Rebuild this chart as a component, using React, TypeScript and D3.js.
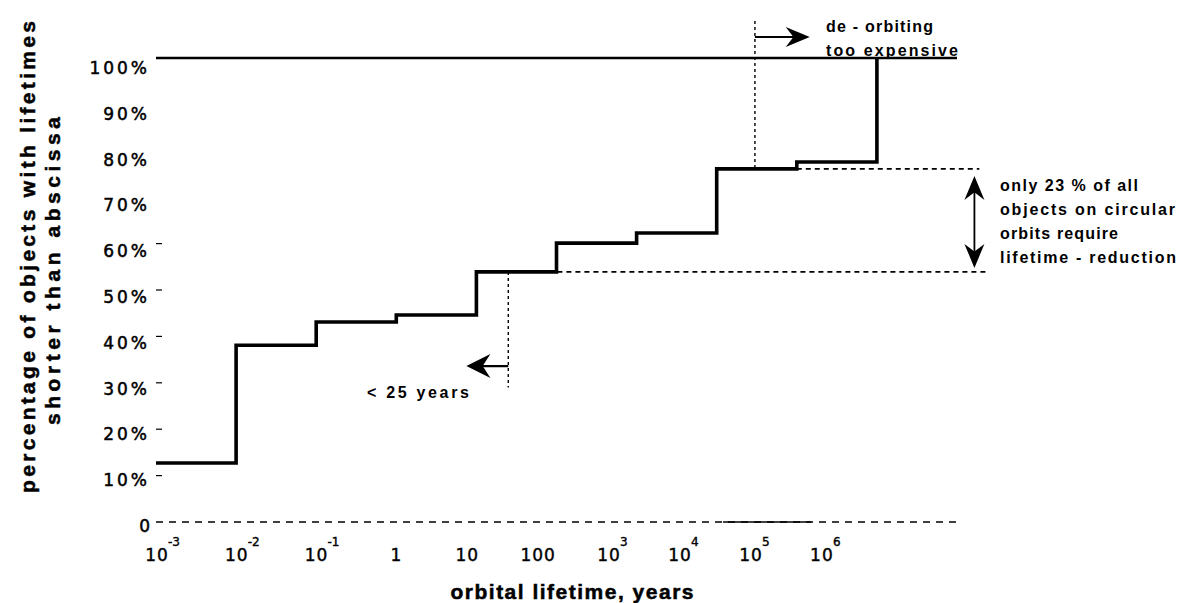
import React from "react";
import * as d3 from "d3";

// decade boundaries (exponent of 10, years) and cumulative share reached after each one
const decadeExp = [-3, -2, -1, 0, 1, 2, 3, 4, 5, 6];
const shareLevels = [12.7, 38.1, 43.1, 44.6, 53.9, 60.1, 62.3, 76.1, 77.6, 100];

const yTicks = [0, 10, 20, 30, 40, 50, 60, 70, 80, 90, 100];
const yTickMarks = [10, 20, 30, 40, 50, 60];
const xTickBase = ["10", "10", "10", "1", "10", "100", "10", "10", "10", "10"];
const xTickSup = ["-3", "-2", "-1", "", "", "", "3", "4", "5", "6"];

const W = 1181;
const H = 603;

// left-, right-, up- or down-pointing barbed arrow head
function head(x: number, y: number, dir: "l" | "r" | "u" | "d", len: number, half: number) {
  const n = 0.68;
  if (dir === "l") return `M${x},${y}L${x + len},${y - half}L${x + len * n},${y}L${x + len},${y + half}Z`;
  if (dir === "r") return `M${x},${y}L${x - len},${y - half}L${x - len * n},${y}L${x - len},${y + half}Z`;
  if (dir === "u") return `M${x},${y}L${x - half},${y + len}L${x},${y + len * n}L${x + half},${y + len}Z`;
  return `M${x},${y}L${x - half},${y - len}L${x},${y - len * n}L${x + half},${y - len}Z`;
}

export default function App() {
  const x = d3.scaleLog().domain([1e-3, 1e7]).range([156, 957]);
  const y = d3.scaleLinear().domain([0, 100]).range([522, 58]);
  // the printed tick labels drift left of the decades on the right half
  const xLab = d3.scaleLinear().domain([-3, 0, 6]).range([x(1e-3) + 1, x(1), x(1e6) - 55]);
  const yLab = d3.scaleLinear().domain([0, 100]).range([526, 68]);

  const pts: [number, number][] = decadeExp.map((e, i) => [Math.pow(10, e), shareLevels[i]]);
  const step = d3
    .line<[number, number]>()
    .x((d) => x(d[0]))
    .y((d) => y(d[1]))
    .curve(d3.curveStepAfter)(pts) as string;

  const low = shareLevels[4];
  const high = shareLevels[7];
  const tick = "DejaVu Sans, sans-serif";
  const bold = "Liberation Sans, Arial, sans-serif";

  // annotation anchors in data units
  const x25 = 25;
  const xDeorb = 3e4;
  const xRight = 1.65e7;

  return (
    <svg width={W} height={H} style={{ position: "fixed", left: 0, top: 0, background: "#fff" }}>
      {/* titles */}
      <g fontFamily={bold} fontWeight="bold" fontSize={21} fill="#000" stroke="#000" strokeWidth={0.5}>
        <text transform="translate(27,257) rotate(-90)" textAnchor="middle" dominantBaseline="central" textLength={472} lengthAdjust="spacing">
          percentage of objects with lifetimes
        </text>
        <text transform="translate(52,271) rotate(-90)" textAnchor="middle" dominantBaseline="central" textLength={308} lengthAdjust="spacing">
          shorter than abscissa
        </text>
        <text x={572} y={591} textAnchor="middle" dominantBaseline="central" textLength={243} lengthAdjust="spacing">
          orbital lifetime, years
        </text>
      </g>

      {/* y tick labels */}
      <g fontFamily={tick} fontSize={17} fill="#000" stroke="#000" strokeWidth={0.5}>
        {yTicks.map((t) => (
          <text key={t} x={150} y={yLab(t)} textAnchor="end" dominantBaseline="central" letterSpacing={t === 0 ? 0 : 3}>
            {t === 0 ? "0" : `${t}%`}
          </text>
        ))}
      </g>
      {yTickMarks.map((t) => (
        <line key={t} x1={x(1e-3)} x2={x(1e-3) + 6} y1={y(t)} y2={y(t)} stroke="#000" strokeWidth={1.2} />
      ))}

      {/* x tick labels */}
      <g fontFamily={tick} fontSize={17} fill="#000" stroke="#000" strokeWidth={0.4}>
        {decadeExp.map((e, i) => (
          <g key={e}>
            <text x={xLab(e)} y={555} textAnchor="middle" dominantBaseline="central" letterSpacing={1}>
              {xTickBase[i]}
            </text>
            {xTickSup[i] && (
              <text x={xLab(e) + 11} y={542} fontSize={12} dominantBaseline="central">
                {xTickSup[i]}
              </text>
            )}
          </g>
        ))}
      </g>

      {/* dashed baseline */}
      <line x1={x(1e-3)} x2={x(1e7)} y1={y(0)} y2={y(0)} stroke="#000" strokeWidth={1.5} strokeDasharray="7,6" />
      <line x1={x(1.2e4)} x2={x(1.5e5)} y1={y(0)} y2={y(0)} stroke="#000" strokeWidth={1.5} />

      {/* 100 % line */}
      <line x1={x(1e-3)} x2={x(1e7)} y1={y(100)} y2={y(100)} stroke="#000" strokeWidth={2.6} />

      {/* cumulative step curve */}
      <path d={step} fill="none" stroke="#000" strokeWidth={3.6} strokeLinejoin="miter" />

      {/* share band guides */}
      <line x1={x(10)} x2={x(2.3e7)} y1={y(low)} y2={y(low)} stroke="#000" strokeWidth={1.6} strokeDasharray="5,4" />
      <line x1={x(1e5)} x2={x(1.9e7)} y1={y(high)} y2={y(high)} stroke="#000" strokeWidth={1.6} strokeDasharray="5,4" />

      {/* < 25 years */}
      <line x1={x(x25)} x2={x(x25)} y1={y(low)} y2={y(29)} stroke="#000" strokeWidth={1.4} strokeDasharray="3,3" />
      <line x1={x(x25)} x2={x(10)} y1={y(33.6)} y2={y(33.6)} stroke="#000" strokeWidth={2.2} />
      <path d={head(x(7.5), y(33.6), "l", 24, 12)} fill="#000" />
      <text x={367} y={392} fontFamily={bold} fontWeight="bold" fontSize={16} dominantBaseline="central" textLength={102} lengthAdjust="spacing">
        {"< 25 years"}
      </text>

      {/* de-orbiting too expensive */}
      <line x1={x(xDeorb)} x2={x(xDeorb)} y1={y(108)} y2={y(high)} stroke="#000" strokeWidth={1.4} strokeDasharray="3,3" />
      <line x1={x(xDeorb)} x2={x(1.05e5)} y1={y(104.5)} y2={y(104.5)} stroke="#000" strokeWidth={2} />
      <path d={head(x(1.45e5), y(104.5), "r", 24, 10)} fill="#000" />
      <g fontFamily={bold} fontWeight="bold" fontSize={16} fill="#000">
        <text x={826} y={26} dominantBaseline="central" textLength={107} lengthAdjust="spacing">
          de - orbiting
        </text>
        <text x={826} y={50} dominantBaseline="central" textLength={132} lengthAdjust="spacing">
          too expensive
        </text>
      </g>

      {/* only 23 % double arrow */}
      <line x1={x(xRight)} x2={x(xRight)} y1={y(high) + 20} y2={y(low) - 20} stroke="#000" strokeWidth={1.8} />
      <path d={head(x(xRight), y(high) + 7, "u", 24, 10)} fill="#000" />
      <path d={head(x(xRight), y(low) - 4, "d", 24, 10)} fill="#000" />
      <g fontFamily={bold} fontWeight="bold" fontSize={16} fill="#000">
        <text x={1000} y={185} dominantBaseline="central" textLength={138} lengthAdjust="spacing">
          only 23 % of all
        </text>
        <text x={1000} y={209} dominantBaseline="central" textLength={175} lengthAdjust="spacing">
          objects on circular
        </text>
        <text x={1000} y={233} dominantBaseline="central" textLength={118} lengthAdjust="spacing">
          orbits require
        </text>
        <text x={1000} y={257} dominantBaseline="central" textLength={176} lengthAdjust="spacing">
          lifetime - reduction
        </text>
      </g>
    </svg>
  );
}
